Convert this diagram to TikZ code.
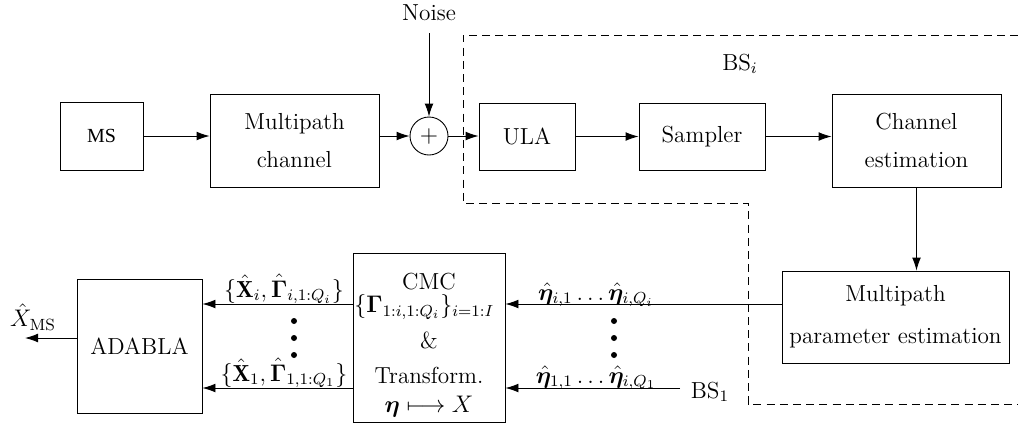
\documentclass[tikz,border=0pt]{standalone}
\usepackage{amsmath,amssymb,bm}
\usepackage{fontspec}
\newfontfamily\msfont{Liberation Serif}
\usetikzlibrary{arrows.meta,calc}

\tikzset{
  blk/.style={draw, line width=0.45pt, inner sep=0pt, align=center},
  sumnode/.style={draw, circle, line width=0.45pt, minimum size=19pt, inner sep=0pt},
  flow/.style={line width=0.45pt, -{Latex[length=6.5pt,width=4.4pt]}},
  region/.style={line width=0.45pt, dash pattern=on 4pt off 2.6pt},
  lbl/.style={inner sep=0pt},
  bigdot/.style={circle, fill, inner sep=0pt, minimum size=3pt}
}

\begin{document}
\begin{tikzpicture}[x=0.5pt, y=-0.5pt, every node/.style={font=\fontsize{11.6}{14}\selectfont}]
\useasboundingbox (0,0) rectangle (1018,425);

% base station boundary
\draw[region] (1018,35) -- (463,35) -- (463,203) -- (748,203) -- (748,404) -- (1018,404);
\node[lbl] (bsi) at (740,64) {BS$_i$};

% upper chain
\node[blk, minimum width=41.5pt, minimum height=34pt] (ms) at (101.5,136) {\msfont\fontsize{10}{12}\selectfont MS};
\node[blk, minimum width=84.5pt, minimum height=46.5pt] (mc) at (294.5,140.5)
  {Multipath\\[5pt]channel};
\node[sumnode] (sum) at (429,136) {$+$};
\node[lbl] (noise) at (429,13) {Noise};
\node[blk, minimum width=48pt, minimum height=33.5pt] (ula) at (527,136.5) {ULA};
\node[blk, minimum width=63pt, minimum height=33.5pt] (smp) at (702,136.5) {Sampler};
\node[blk, minimum width=84.5pt, minimum height=46.5pt] (ce) at (916.5,140.5)
  {Channel\\[5pt]estimation};
\node[blk, minimum width=113.5pt, minimum height=46pt] (mpe) at (895.5,317)
  {Multipath\\[7pt]parameter estimation};

% fusion block
\node[blk, minimum width=76pt, minimum height=84.5pt] (cmc) at (429,337.5) {};
\node[lbl] (cmc1) at (429,282) {CMC};
\node[lbl, anchor=west] (cmc2) at (354,307) {$\{\bm{\Gamma}_{1:i,1:Q_i}\}_{i=1:I}$};
\node[lbl] (cmc3) at (429,340) {\&};
\node[lbl] (cmc4) at (429,375) {Transform.};
\node[lbl] (cmc5) at (429,407) {$\bm{\eta}\longmapsto X$};

\node[blk, minimum width=62.5pt, minimum height=67pt] (ada) at (139.5,346) {ADABLA};
\node[lbl] (bs1) at (710,392) {BS$_1$};

% connectors, upper chain
\draw[flow] (ms.east) -- (ms.east -| mc.west);
\draw[flow] (mc.east |- sum.west) -- (sum.west);
\draw[flow] ($(noise.south)+(0,12)$) -- (sum.north);
\draw[flow] (sum.east) -- (sum.east -| ula.west);
\draw[flow] (ula.east) -- (ula.east -| smp.west);
\draw[flow] (smp.east) -- (smp.east -| ce.west);
\draw[flow] (ce.south) -- (mpe.north -| ce.south);

% connectors, estimates into fusion block
\coordinate (etaI) at (782,304);
\coordinate (eta1) at (680,388);
\draw[flow] (etaI) -- (etaI -| cmc.east);
\draw[flow] (eta1) -- (eta1 -| cmc.east);
\node[lbl] (etaIl) at (596,295) {$\hat{\bm{\eta}}_{i,1}\ldots\hat{\bm{\eta}}_{i,Q_i}$};
\node[lbl] (eta1l) at (596,378) {$\hat{\bm{\eta}}_{1,1}\ldots\hat{\bm{\eta}}_{i,Q_1}$};
\node[bigdot] (rd1) at (614,321) {};
\node[bigdot] (rd2) at (614,338) {};
\node[bigdot] (rd3) at (614,355) {};

% connectors, fused estimates into ADABLA
\coordinate (xI) at (353,304);
\coordinate (x1) at (353,388);
\draw[flow] (xI) -- (xI -| ada.east);
\draw[flow] (x1) -- (x1 -| ada.east);
\node[lbl] (xIl) at (284,289) {$\{\hat{\mathbf{X}}_i,\hat{\bm{\Gamma}}_{i,1:Q_i}\}$};
\node[lbl] (x1l) at (284,373) {$\{\hat{\mathbf{X}}_1,\hat{\bm{\Gamma}}_{1,1:Q_1}\}$};
\node[bigdot] (ld1) at (294,321) {};
\node[bigdot] (ld2) at (294,338) {};
\node[bigdot] (ld3) at (294,355) {};

% output
\coordinate (out) at (25,338);
\draw[flow] (ada.west |- out) -- (out);
\node[lbl] (outl) at (33,317) {$\hat{X}_{\mathrm{MS}}$};
\end{tikzpicture}
\end{document}
